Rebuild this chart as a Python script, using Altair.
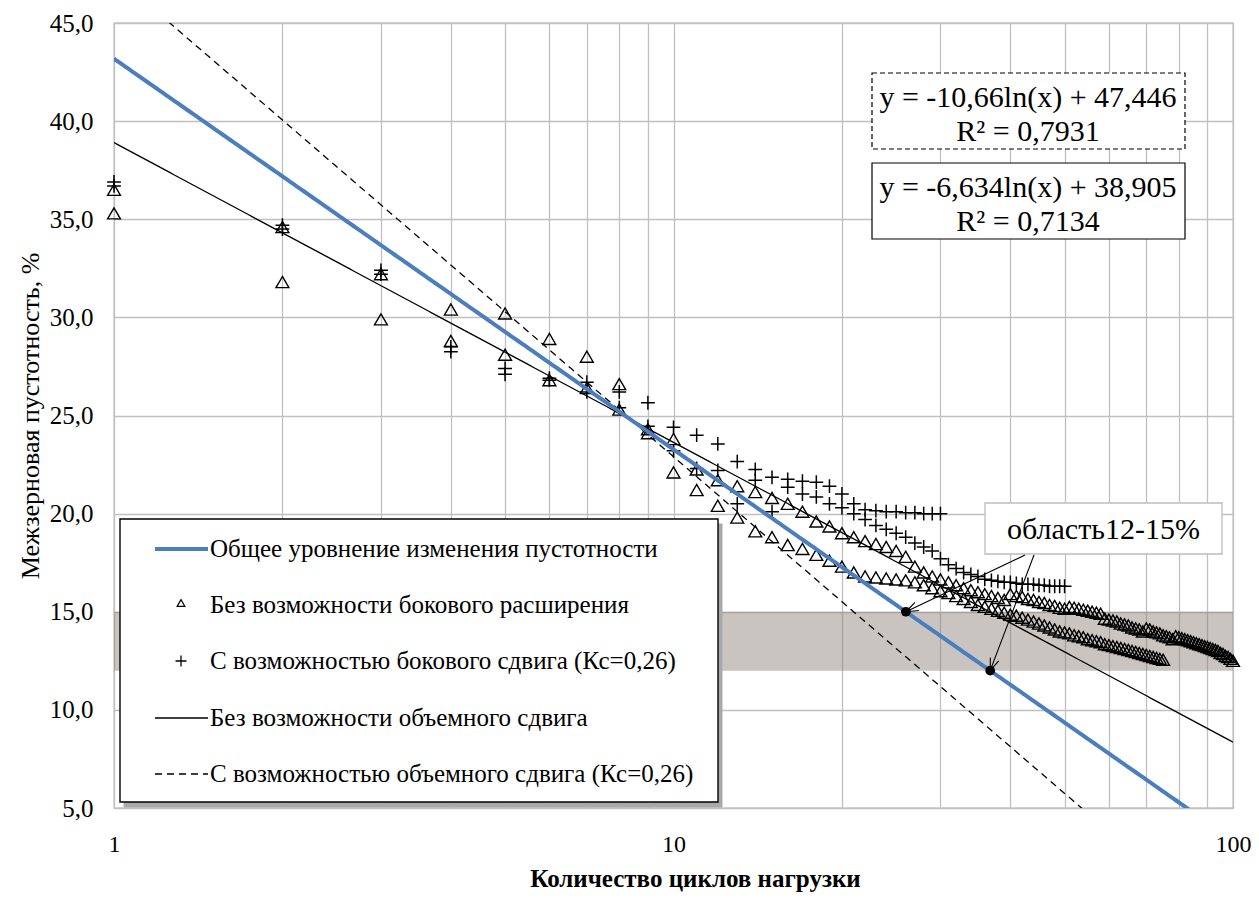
import altair as alt
import pandas as pd
import numpy as np

SERIF = "Liberation Serif, Times New Roman, DejaVu Serif, serif"

# ---------------- data ----------------
# triangles, upper track (100 cycles)
x_tri_a = list(range(1, 101))
y_tri_a = [36.5, 34.6, 32.2, 30.4, 30.2, 28.9, 28.0, 26.6, 24.3, 23.8,
           22.25, 21.7, 21.4, 21.1, 20.8, 20.5, 20.1, 19.6, 19.35, 19.0,
           18.8, 18.6, 18.45, 18.3, 18.1, 17.8, 17.3, 17.0, 16.8, 16.65,
           16.5, 16.35, 16.2, 16.1, 16.0, 15.9, 15.8, 15.7, 15.6, 15.9,
           15.8, 15.75, 15.65, 15.6, 15.5, 15.45, 15.35, 15.3, 15.2, 15.15,
           15.25, 15.2, 15.15, 15.1, 15.05, 15.0, 14.95, 14.9, 14.65, 14.6,
           14.55, 14.5, 14.4, 14.35, 14.3, 14.2, 14.15, 14.1, 14.0, 14.15,
           14.1, 14.0, 13.95, 13.9, 13.8, 13.75, 13.7, 13.6, 13.75, 13.7,
           13.65, 13.6, 13.55, 13.5, 13.45, 13.4, 13.35, 13.3, 13.25, 13.2,
           13.15, 13.1, 13.05, 13.0, 12.9, 12.85, 12.75, 12.7, 12.6, 12.5]
# triangles, lower track (75 cycles)
x_tri_b = list(range(1, 76))
y_tri_b = [35.3, 31.8, 29.9, 28.8, 28.1, 26.8, 26.4, 25.3, 24.1, 22.1,
           21.2, 20.4, 19.8, 19.1, 18.8, 18.4, 18.2, 17.9, 17.6, 17.3,
           17.0, 16.8, 16.75, 16.7, 16.65, 16.6, 16.5, 16.35, 16.2, 16.05,
           15.95, 15.8, 15.65, 15.5, 15.35, 15.25, 15.15, 15.05, 14.95, 14.85,
           14.8, 14.7, 14.6, 14.5, 14.4, 14.3, 14.2, 14.1, 14.0, 13.95,
           13.9, 13.8, 13.75, 13.7, 13.6, 13.55, 13.5, 13.45, 13.35, 13.3,
           13.25, 13.2, 13.15, 13.1, 13.05, 13.0, 12.95, 12.9, 12.85, 12.8,
           12.75, 12.7, 12.65, 12.6, 12.55]
# pluses, track ending at 30 cycles
x_plus_a = list(range(1, 31))
y_plus_a = [36.9, 34.7, 32.4, 28.5, 27.4, 26.9, 26.7, 26.2, 25.65, 24.4,
            24.0, 23.55, 22.65, 22.25, 21.85, 21.75, 21.65, 21.6, 21.4, 21.0,
            20.5, 20.2, 20.15, 20.1, 20.1, 20.05, 20.05, 20.0, 20.0, 20.0]
# pluses, track ending at 50 cycles
x_plus_b = list(range(1, 51))
y_plus_b = [36.7, 34.5, 32.2, 28.25, 27.1, 26.8, 26.2, 25.4, 24.45, 23.2,
            22.3, 22.2, 20.5, 21.7, 20.1, 21.35, 21.0, 20.85, 20.5, 20.3,
            20.0, 19.7, 19.4, 19.2, 19.0, 18.8, 18.5, 18.3, 18.1, 17.7,
            17.4, 17.2, 17.0, 16.9, 16.8, 16.65, 16.6, 16.55, 16.5, 16.5,
            16.45, 16.4, 16.4, 16.4, 16.35, 16.35, 16.3, 16.3, 16.3, 16.3]

# logarithmic trend lines y = a*ln(x) + b
trend_keys = ["general", "no_shift", "shift"]
trend_a = [-8.647, -6.634, -10.66]
trend_b = [43.18, 38.905, 47.446]

band_range = [12, 15]
marked_levels = [15, 12]

legend_labels = ["Общее уровнение изменения пустотности",
                 "Без возможности бокового расширения",
                 "С возможностью бокового сдвига (Кс=0,26)",
                 "Без возможности объемного сдвига",
                 "С возможностью объемного сдвига (Кс=0,26)"]
eq_dashed = ["y = -10,66ln(x) + 47,446", "R² = 0,7931"]
eq_solid = ["y = -6,634ln(x) + 38,905", "R² = 0,7134"]
note_text = "область12-15%"

# ---------------- layout ----------------
W, H = 1119, 785
XMIN, XMAX, YMIN, YMAX = 1, 100, 5, 45


def px(x):
    return W * (np.log10(x) - np.log10(XMIN)) / (np.log10(XMAX) - np.log10(XMIN))


def py(y):
    return H * (YMAX - y) / (YMAX - YMIN)


one = pd.DataFrame({"k": [0]})

xs = alt.Scale(type="log", domain=[XMIN, XMAX], nice=False)
ys = alt.Scale(domain=[YMIN, YMAX], nice=False, zero=False)
x_grid_vals = [1, 2, 3, 4, 5, 6, 7, 8, 9, 10, 20, 30, 40, 50, 60, 70, 80, 90, 100]

X = alt.X("x:Q", scale=xs, title="Количество циклов нагрузки",
          axis=alt.Axis(values=x_grid_vals,
                        labelExpr="(datum.value == 1 || datum.value == 10 || datum.value == 100) ? datum.value : ''",
                        ticks=False, domain=False, labelPadding=24, titlePadding=10,
                        labelFont=SERIF, labelFontSize=24, titleFont=SERIF,
                        titleFontSize=25, titleFontWeight="bold", labelColor="black",
                        titleColor="black", gridColor="#c0c0c0", gridWidth=1.3,
                        labelFlush=False, titleX=581, titleAlign="center"))
Y = alt.Y("y:Q", scale=ys, title="Межзерновая пустотность, %",
          axis=alt.Axis(values=[5, 10, 15, 20, 25, 30, 35, 40, 45],
                        labelExpr="replace(format(datum.value, '.1f'), '.', ',')",
                        ticks=False, domain=False, labelPadding=21, titlePadding=6,
                        labelFont=SERIF, labelFontSize=25, titleFont=SERIF,
                        titleFontSize=26, titleFontWeight="normal", labelColor="black",
                        titleColor="black", gridColor="#c0c0c0", gridWidth=1.3))

# band
band_df = pd.DataFrame({"x": [XMIN], "x2": [XMAX], "y": [band_range[0]], "y2": [band_range[1]]})
band = alt.Chart(band_df).mark_rect(color="#8a7c74", opacity=0.45).encode(
    x=X, x2="x2:Q", y=Y, y2="y2:Q")

tri_df = pd.concat([pd.DataFrame({"x": x_tri_a, "y": y_tri_a}),
                    pd.DataFrame({"x": x_tri_b, "y": y_tri_b})])
plus_df = pd.concat([pd.DataFrame({"x": x_plus_a, "y": y_plus_a}),
                     pd.DataFrame({"x": x_plus_b, "y": y_plus_b})])

tri = alt.Chart(tri_df).mark_point(shape="triangle-up", filled=False, color="black",
                                   size=165, strokeWidth=1.4, opacity=1).encode(x=X, y=Y)
PLUS = "M-1,0L1,0M0,-1L0,1"
plus = alt.Chart(plus_df).mark_point(shape=PLUS, filled=False, color="black",
                                     size=190, strokeWidth=1.5, opacity=1).encode(x=X, y=Y)

# trend lines
xx = np.geomspace(1, 100, 300)
trend_rows = []
for k, a, b in zip(trend_keys, trend_a, trend_b):
    for v in xx:
        trend_rows.append({"key": k, "x": float(v), "y": float(a * np.log(v) + b)})
trend_df = pd.DataFrame(trend_rows)

line_solid = alt.Chart(trend_df[trend_df.key == "no_shift"]).mark_line(
    color="black", strokeWidth=1.3, clip=True).encode(x=X, y=Y)
line_dash = alt.Chart(trend_df[trend_df.key == "shift"]).mark_line(
    color="black", strokeWidth=1.3, strokeDash=[7, 5], clip=True).encode(x=X, y=Y)
line_blue = alt.Chart(trend_df[trend_df.key == "general"]).mark_line(
    color="#4a7ebf", strokeWidth=4, clip=True).encode(x=X, y=Y)

# marked points on the general line
ga, gb = trend_a[0], trend_b[0]
dot_x = [float(np.exp((lv - gb) / ga)) for lv in marked_levels]
dot_df = pd.DataFrame({"x": dot_x, "y": marked_levels})
dots = alt.Chart(dot_df).mark_circle(color="black", size=95, opacity=1).encode(x=X, y=Y)


# ---------------- helpers for drawn annotations ----------------
def rect(x1, y1, x2, y2, fill="white", stroke="black", sw=1.0, dash=None):
    kw = dict(fill=fill, stroke=stroke, strokeWidth=sw)
    if dash is not None:
        kw["strokeDash"] = dash
    return alt.Chart(one).mark_rect(**kw).encode(
        x=alt.value(x1), x2=alt.value(x2), y=alt.value(y1), y2=alt.value(y2))


def seg(x1, y1, x2, y2, color="black", sw=1.0, dash=None):
    kw = dict(color=color, strokeWidth=sw)
    if dash is not None:
        kw["strokeDash"] = dash
    return alt.Chart(one).mark_rule(**kw).encode(
        x=alt.value(x1), x2=alt.value(x2), y=alt.value(y1), y2=alt.value(y2))


def txt(s, x, y, size, align="center", weight="normal"):
    return alt.Chart(one).mark_text(text=s, font=SERIF, fontSize=size, align=align,
                                    baseline="middle", fontWeight=weight,
                                    color="black").encode(x=alt.value(x), y=alt.value(y))


layers = [band, line_solid, line_dash, tri, plus, line_blue, dots]

# equation boxes
layers += [rect(758, 50, 1071, 126, dash=[5, 3], sw=1.2),
           txt(eq_dashed[0], 914, 75, 30), txt(eq_dashed[1], 914, 109, 30),
           rect(758, 140, 1071, 216, sw=1.2),
           txt(eq_solid[0], 914, 165, 30), txt(eq_solid[1], 914, 199, 30)]

# annotation box + arrows
bx1, by1, bx2, by2 = 871, 480, 1108, 531
layers += [rect(bx1, by1, bx2, by2, stroke="#bdbdbd", sw=1.3),
           txt(note_text, (bx1 + bx2) / 2, 507, 30)]
starts = [(911, 532), (920, 532)]
for (sx, sy), dxv, lv in zip(starts, dot_x, marked_levels):
    tx, ty = float(px(dxv)), float(py(lv))
    layers.append(seg(sx, sy, tx, ty, sw=1.1))
    ang = np.arctan2(sy - ty, sx - tx)
    for da in (0.35, -0.35):
        hx = tx + 13 * np.cos(ang + da)
        hy = ty + 13 * np.sin(ang + da)
        layers.append(seg(tx, ty, float(hx), float(hy), sw=1.1))

# legend
lx1, ly1, lx2, ly2 = 6, 496, 604, 779
layers += [rect(lx1 + 4, ly1 + 5, lx2 + 4, ly2 + 5, fill="#a9a9a9", stroke="#a9a9a9", sw=1),
           rect(lx1, ly1, lx2, ly2, sw=1.4)]
rows_y = [526, 582, 638, 695, 751]
sym_x1, sym_x2, sym_c, text_x = 41, 94, 67, 96
layers.append(seg(sym_x1, rows_y[0], sym_x2, rows_y[0], color="#4a7ebf", sw=4))
layers.append(alt.Chart(one).mark_point(shape="triangle-up", filled=False, color="black",
                                        size=60, strokeWidth=1.2, opacity=1).encode(
    x=alt.value(sym_c), y=alt.value(rows_y[1] - 2)))
layers.append(alt.Chart(one).mark_point(shape=PLUS, filled=False, color="black",
                                        size=120, strokeWidth=1.3, opacity=1).encode(
    x=alt.value(sym_c), y=alt.value(rows_y[2])))
layers.append(seg(sym_x1, rows_y[3], sym_x2, rows_y[3], sw=1.3))
layers.append(seg(sym_x1, rows_y[4], sym_x2, rows_y[4], sw=1.3, dash=[7, 5]))
for lab, yy in zip(legend_labels, rows_y):
    layers.append(txt(lab, text_x, yy, 25, align="left"))

chart = alt.layer(*layers).properties(
    width=W, height=H, autosize="none",
    padding={"left": 106, "top": 15, "right": 18, "bottom": 90},
    background="white",
).configure_view(stroke="#b0b0b0", strokeWidth=1.3)

chart.save("out.html", embed_options={"renderer": "svg", "actions": False})
